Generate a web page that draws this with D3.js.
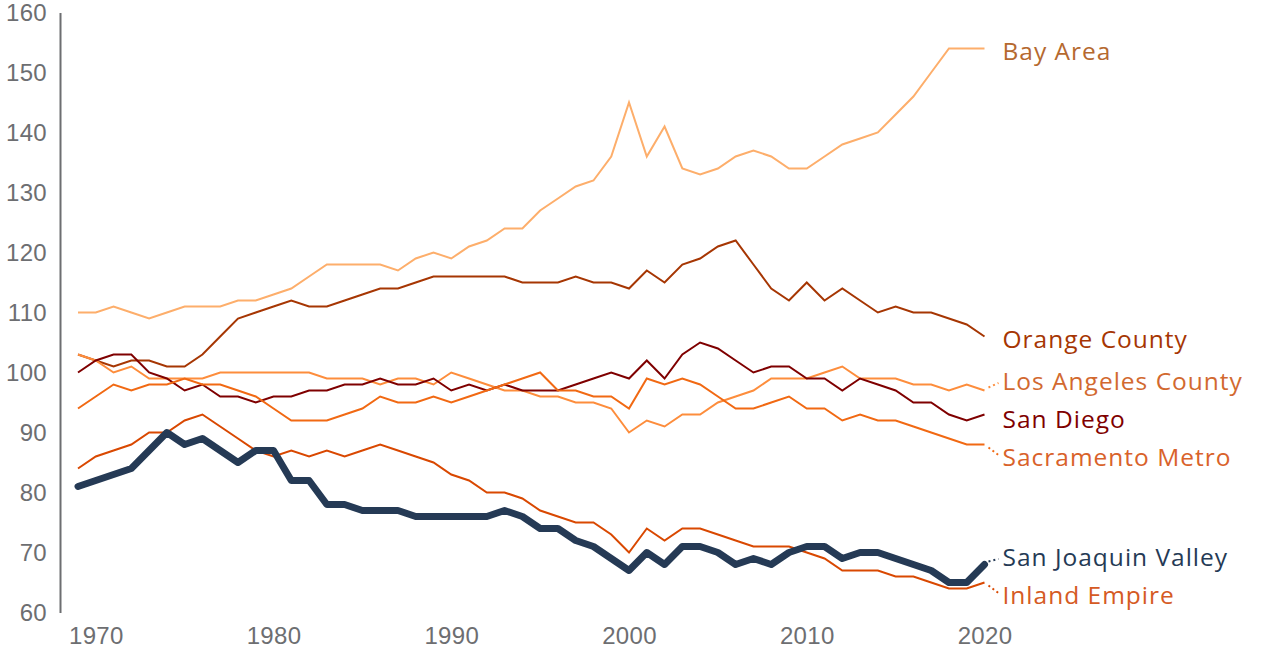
<!DOCTYPE html>
<html>
<head>
<meta charset="utf-8">
<script src="https://cdn.jsdelivr.net/npm/d3@7"></script>
<style>
  body { margin: 0; background: #fff; }
  svg { font-family: "Open Sans", Lato, sans-serif; }
  .axis text { fill: #6d6e71; font-size: 24px; letter-spacing: 0.3px; }
  .axis path { stroke: #6d6e71; stroke-width: 2; }
  .lbl { font-size: 24.5px; letter-spacing: 1px; }
</style>
</head>
<body>
<svg id="chart" width="1280" height="656"></svg>
<script>
// years 1969..2020
var years = d3.range(1969, 2021);

var bayArea = [110,110,111,110,109,110,111,111,111,112,112,113,114,116,118,118,118,118,117,119,120,119,121,122,124,124,127,129,131,132,136,145,136,141,134,133,134,136,137,136,134,134,136,138,139,140,143,146,150,154,154,154];
var orangeCounty = [103,102,101,102,102,101,101,103,106,109,110,111,112,111,111,112,113,114,114,115,116,116,116,116,116,115,115,115,116,115,115,114,117,115,118,119,121,122,118,114,112,115,112,114,112,110,111,110,110,109,108,106];
var losAngeles = [103,102,100,101,99,99,99,99,100,100,100,100,100,100,99,99,99,98,99,99,98,100,99,98,97,97,96,96,95,95,94,90,92,91,93,93,95,96,97,99,99,99,100,101,99,99,99,98,98,97,98,97];
var sanDiego = [100,102,103,103,100,99,97,98,96,96,95,96,96,97,97,98,98,99,98,98,99,97,98,97,98,97,97,97,98,99,100,99,102,99,103,105,104,102,100,101,101,99,99,97,99,98,97,95,95,93,92,93];
var sacramento = [94,96,98,97,98,98,99,98,98,97,96,94,92,92,92,93,94,96,95,95,96,95,96,97,98,99,100,97,97,96,96,94,99,98,99,98,96,94,94,95,96,94,94,92,93,92,92,91,90,89,88,88];
var inlandEmpire = [84,86,87,88,90,90,92,93,91,89,87,86,87,86,87,86,87,88,87,86,85,83,82,80,80,79,77,76,75,75,73,70,74,72,74,74,73,72,71,71,71,70,69,67,67,67,66,66,65,64,64,65];
var sanJoaquin = [81,82,83,84,87,90,88,89,87,85,87,87,82,82,78,78,77,77,77,76,76,76,76,76,77,76,74,74,72,71,69,67,70,68,71,71,70,68,69,68,70,71,71,69,70,70,69,68,67,65,65,68];

var regionNames = ["Bay Area", "Orange County", "Los Angeles County", "San Diego", "Sacramento Metro", "Inland Empire", "San Joaquin Valley"];
var regionValues = [bayArea, orangeCounty, losAngeles, sanDiego, sacramento, inlandEmpire, sanJoaquin];
var lineColors = ["#fdae6b", "#a63603", "#fd8d3c", "#7f0000", "#f16913", "#d94801", "#253a55"];
var labelColors = ["#b5692f", "#a63603", "#d2692f", "#7f0000", "#d9622a", "#d55a23", "#253a55"];
var lineWidths = [2, 2, 2, 2, 2, 2, 7];

var yTicks = d3.range(60, 161, 10);
var xTicks = [1970, 1980, 1990, 2000, 2010, 2020];

var svg = d3.select("#chart");

var x = d3.scaleLinear().domain([1969, 2020]).range([78, 984.5]);
var y = d3.scaleLinear().domain([60, 160]).range([612.5, 12.5]);

var yAxis = svg.append("g")
  .attr("class", "axis")
  .attr("transform", "translate(60,0)")
  .call(d3.axisLeft(y).tickValues(yTicks).tickSize(0).tickSizeOuter(0).tickPadding(13));
yAxis.selectAll("text").attr("dy", "0.35em");

var xAxis = svg.append("g")
  .attr("class", "axis")
  .attr("transform", "translate(0,612.5)")
  .call(d3.axisBottom(x).tickValues(xTicks).tickFormat(d3.format("d")).tickSize(0).tickPadding(14));
xAxis.select(".domain").remove();

var line = d3.line()
  .x(function(d, i) { return x(years[i]); })
  .y(function(d) { return y(d); });

var series = regionNames.map(function(name, i) {
  return { name: name, values: regionValues[i], color: lineColors[i], label: labelColors[i], width: lineWidths[i] };
});

svg.append("g").selectAll("path")
  .data(series)
  .enter().append("path")
  .attr("d", function(s) { return line(s.values); })
  .style("fill", "none")
  .style("stroke", function(s) { return s.color; })
  .style("stroke-width", function(s) { return s.width; })
  .style("stroke-linejoin", function(s) { return s.width > 3 ? "round" : "miter"; })
  .style("stroke-linecap", function(s) { return s.width > 3 ? "round" : "butt"; });

// end labels, spread apart so they don't collide
var lastX = x(years[years.length - 1]);
var labels = series.map(function(s) {
  var ye = y(s.values[s.values.length - 1]);
  return { s: s, yEnd: ye, yl: ye };
}).sort(function(a, b) { return a.yEnd - b.yEnd; });

var gap = 38;
for (var iter = 0; iter < 200; iter++) {
  for (var k = 1; k < labels.length; k++) {
    var d = labels[k].yl - labels[k-1].yl;
    if (d < gap) {
      var push = (gap - d) / 2;
      labels[k].yl += push;
      labels[k-1].yl -= push;
    }
  }
}
labels.forEach(function(l) { l.yl += 2.5; });

var lg = svg.append("g");
labels.forEach(function(l) {
  if (Math.abs(l.yl - l.yEnd) > 5) {
    lg.append("line")
      .attr("x1", lastX + 4)
      .attr("y1", l.yEnd + (l.yl > l.yEnd ? 3 : -3))
      .attr("x2", lastX + 14)
      .attr("y2", l.yl + (l.yl > l.yEnd ? -2 : 2))
      .style("stroke", l.s.color)
      .style("stroke-width", 2)
      .style("stroke-dasharray", "2,3");
  }
  lg.append("text")
    .attr("class", "lbl")
    .attr("x", lastX + 18)
    .attr("y", l.yl)
    .attr("dy", "0.35em")
    .style("fill", l.s.label)
    .text(l.s.name);
});
</script>
</body>
</html>
